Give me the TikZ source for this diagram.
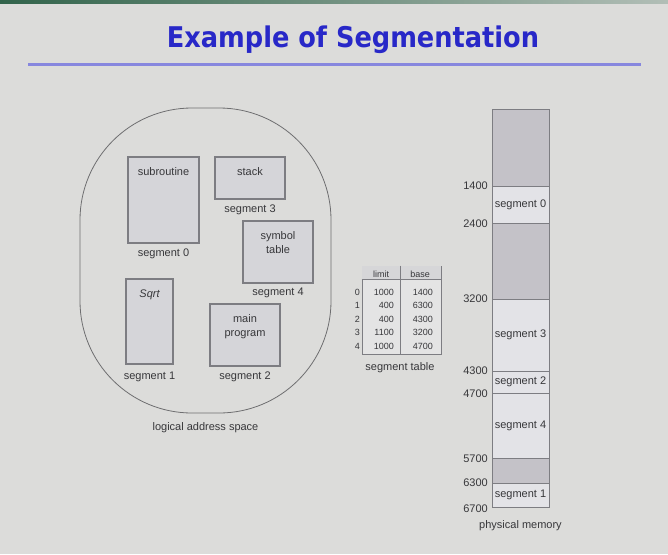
\documentclass[tikz,border=0pt]{standalone}
\usepackage{fontspec}
\setmainfont{Liberation Sans}
\newfontfamily\titlefont{DejaVu Sans Condensed}
\usetikzlibrary{positioning}
\definecolor{slidebg}{RGB}{220,220,218}
\definecolor{bargreen}{RGB}{50,100,75}
\definecolor{titleblue}{RGB}{40,40,200}
\definecolor{rulelilac}{RGB}{135,135,222}
\definecolor{boxgray}{RGB}{213,213,217}
\definecolor{edgegray}{RGB}{125,125,130}
\definecolor{ovalgray}{RGB}{110,110,112}
\definecolor{holegray}{RGB}{196,194,200}
\definecolor{memseg}{RGB}{227,227,231}
\definecolor{tblfill}{RGB}{228,228,228}
\definecolor{hdrfill}{RGB}{214,214,216}
\definecolor{inkgray}{RGB}{55,55,58}
\newcommand{\lblfont}{\fontsize{11}{13.5}\selectfont}
\newcommand{\tblfont}{\fontsize{9}{10}\selectfont}

\begin{document}
\begin{tikzpicture}[x=1pt, y=-1pt,
  seg/.style={draw=edgegray, fill=boxgray, line width=1.2pt, inner sep=0pt},
  segtxt/.style={anchor=north, align=center, inner sep=1pt, font=\lblfont, text=inkgray},
  lbl/.style={inner sep=1pt, font=\lblfont, text=inkgray},
  mem/.style={draw=edgegray, line width=1pt, minimum width=57pt, inner sep=0pt,
              font=\lblfont, text=inkgray},
  addr/.style={anchor=east, inner sep=1pt, font=\lblfont, text=inkgray},
  cell/.style={anchor=east, inner sep=0pt, font=\tblfont, text=inkgray}
]

% Slide background and title
\fill[slidebg] (0,0) rectangle (668,554);
\useasboundingbox (0,0) rectangle (668,554);
\shade[left color=bargreen, right color=bargreen!25!slidebg] (0,0) rectangle (668,3.5);
\node[font=\titlefont\bfseries\fontsize{28.5}{32}\selectfont, text=titleblue, anchor=base]
  (title) at (353,47) {Example of Segmentation};
\draw[rulelilac, line width=3pt] (28,64) -- (641,64);

% Left: logical address space
\node[draw=ovalgray, line width=0.8pt, rounded corners=112pt,
      minimum width=251pt, minimum height=305pt] (las) at (205.5,260.5) {};
\node[lbl, below=8pt of las] (lastxt) {logical address space};

\node[seg, minimum width=71pt, minimum height=86pt] (s0) at (163.5,200) {};
\node[segtxt] (s0txt) at ([yshift=-10pt]s0.north) {subroutine};
\node[lbl, below=4pt of s0] (s0lbl) {segment 0};

\node[seg, minimum width=70pt, minimum height=42pt] (s3) at (250,178) {};
\node[segtxt] (s3txt) at ([yshift=-10pt]s3.north) {stack};
\node[lbl, below=4pt of s3] (s3lbl) {segment 3};

\node[seg, minimum width=70pt, minimum height=62pt] (s4) at (278,252) {};
\node[segtxt] (s4txt) at ([yshift=-10pt]s4.north) {symbol\\table};
\node[lbl, below=3pt of s4] (s4lbl) {segment 4};

\node[seg, minimum width=47pt, minimum height=85pt] (s1) at (149.5,321.5) {};
\node[segtxt] (s1txt) at ([yshift=-10pt]s1.north) {\itshape Sqrt};
\node[lbl, below=6pt of s1] (s1lbl) {segment 1};

\node[seg, minimum width=70pt, minimum height=62pt] (s2) at (245,335) {};
\node[segtxt] (s2txt) at ([yshift=-10pt]s2.north) {main\\program};
\node[lbl, below=4pt of s2] (s2lbl) {segment 2};

% Middle: segment table
\node[draw=edgegray, fill=tblfill, line width=0.8pt, minimum width=79pt,
      minimum height=88pt] (stbl) at (401.5,310) {};
\fill[hdrfill] ([shift={(0.4pt,-0.4pt)}]stbl.north west) rectangle ([yshift=-14pt]stbl.north east);
\draw[edgegray, line width=0.8pt] ([yshift=-14pt]stbl.north west) -- ([yshift=-14pt]stbl.north east);
\draw[edgegray, line width=0.8pt] ([xshift=-1.5pt]stbl.north) -- ([xshift=-1.5pt]stbl.south);
\node[cell, anchor=center] (hlim) at (381,274) {limit};
\node[cell, anchor=center] (hbase) at (420,274) {base};
\foreach \lim/\base [count=\i from 0] in {1000/1400, 400/6300, 400/4300, 1100/3200, 1000/4700} {
  \node[cell] (idx\i) at (360,292+13.5*\i) {\i};
  \node[cell] (lim\i) at (394,292+13.5*\i) {\lim};
  \node[cell] (base\i) at (433,292+13.5*\i) {\base};
}
\node[lbl] (stbltxt) at (400,368) {segment table};

% Right: physical memory
\foreach \top/\bot/\fillc/\txt [count=\i from 0] in
  {109/186/holegray/, 186/223/memseg/segment 0, 223/299/holegray/,
   299/371/memseg/segment 3, 371/393/memseg/segment 2, 393/458/memseg/segment 4,
   458/483/holegray/, 483/507/memseg/segment 1} {
  \node[mem, fill=\fillc, minimum height={(\bot-\top)*1pt}] (mem\i)
    at (520.5,{(\top+\bot)/2}) {\txt};
}
\foreach \a/\y in {1400/186, 2400/224, 3200/299, 4300/371, 4700/394, 5700/459, 6300/483, 6700/509}
  \node[addr] (a\a) at (489,\y) {\a};
\node[lbl, below=12pt of mem7] (memtxt) {physical memory};

\end{tikzpicture}
\end{document}
